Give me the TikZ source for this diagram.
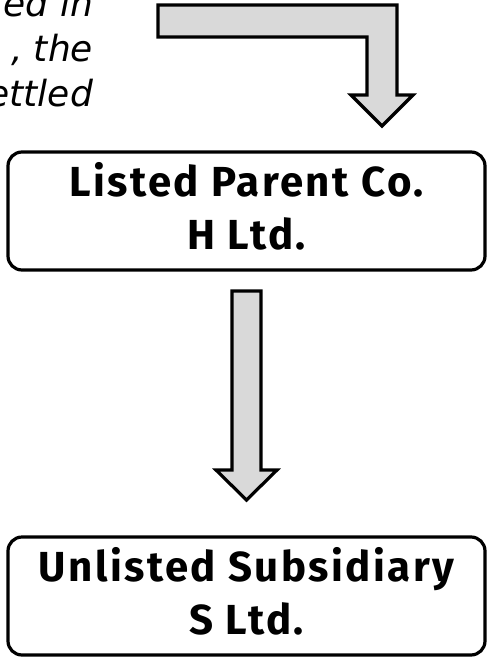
\documentclass[tikz,border=0pt]{standalone}
\usepackage{fontspec}
\setmainfont{Fira Sans}
\newfontfamily\boxfont[LetterSpace=5.8]{Fira Sans}
\newfontfamily\notefont{DejaVu Sans}
\usetikzlibrary{calc}
\definecolor{arrowgray}{RGB}{217,217,217}
\newcommand{\lowpad}{\rule[-10pt]{0pt}{10pt}}
\tikzset{
  entitybox/.style={draw=black, line width=3.2pt, rounded corners=14pt,
    minimum width=477pt, minimum height=118pt, inner sep=0pt, outer sep=0pt,
    align=center, font=\boxfont\bfseries\fontsize{42}{53}\selectfont},
  blockarrow/.style={draw=black, line width=3.2pt, fill=arrowgray, line join=miter},
  notetext/.style={anchor=base east, inner sep=0pt, outer sep=0pt,
    font=\notefont\itshape\fontsize{36}{45}\selectfont}
}
\begin{document}
\begin{tikzpicture}[x=1pt, y=-1pt]
  \useasboundingbox (0,0) rectangle (487,664);
  \clip (0,0) rectangle (487,664);

  % note text running in from the left margin
  \node[notetext] (note1) at (93,16)  {ed in};
  \node[notetext] (note2) at (93,61)  {, the};
  \node[notetext] (note3) at (93,106) {ettled};

  % the two companies
  \node[entitybox] (parent) at (246.5,211) {Listed Parent Co.\\H Ltd.\lowpad};
  \node[entitybox] (sub)    at (246.5,596) {Unlisted Subsidiary\\S Ltd.\lowpad};

  % bent block arrow coming down onto the parent
  \coordinate (bendtip) at (382,126);
  \draw[blockarrow] (158,5) -- (397,5) -- (397,95) -- (413,95) -- (bendtip)
    -- (351,95) -- (367,95) -- (367,37) -- (158,37) -- cycle;

  % straight block arrow from parent to subsidiary
  \coordinate (shafttop) at ($(parent.south)+(0,21)$);
  \coordinate (droptip)  at ($(sub.north)+(0,-37)$);
  \draw[blockarrow] ($(shafttop)+(-14.5,0)$) -- ($(shafttop)+(14.5,0)$)
    -- ($(droptip)+(14.5,-30)$) -- ($(droptip)+(30.5,-30)$) -- (droptip)
    -- ($(droptip)+(-30.5,-30)$) -- ($(droptip)+(-14.5,-30)$) -- cycle;
\end{tikzpicture}
\end{document}
